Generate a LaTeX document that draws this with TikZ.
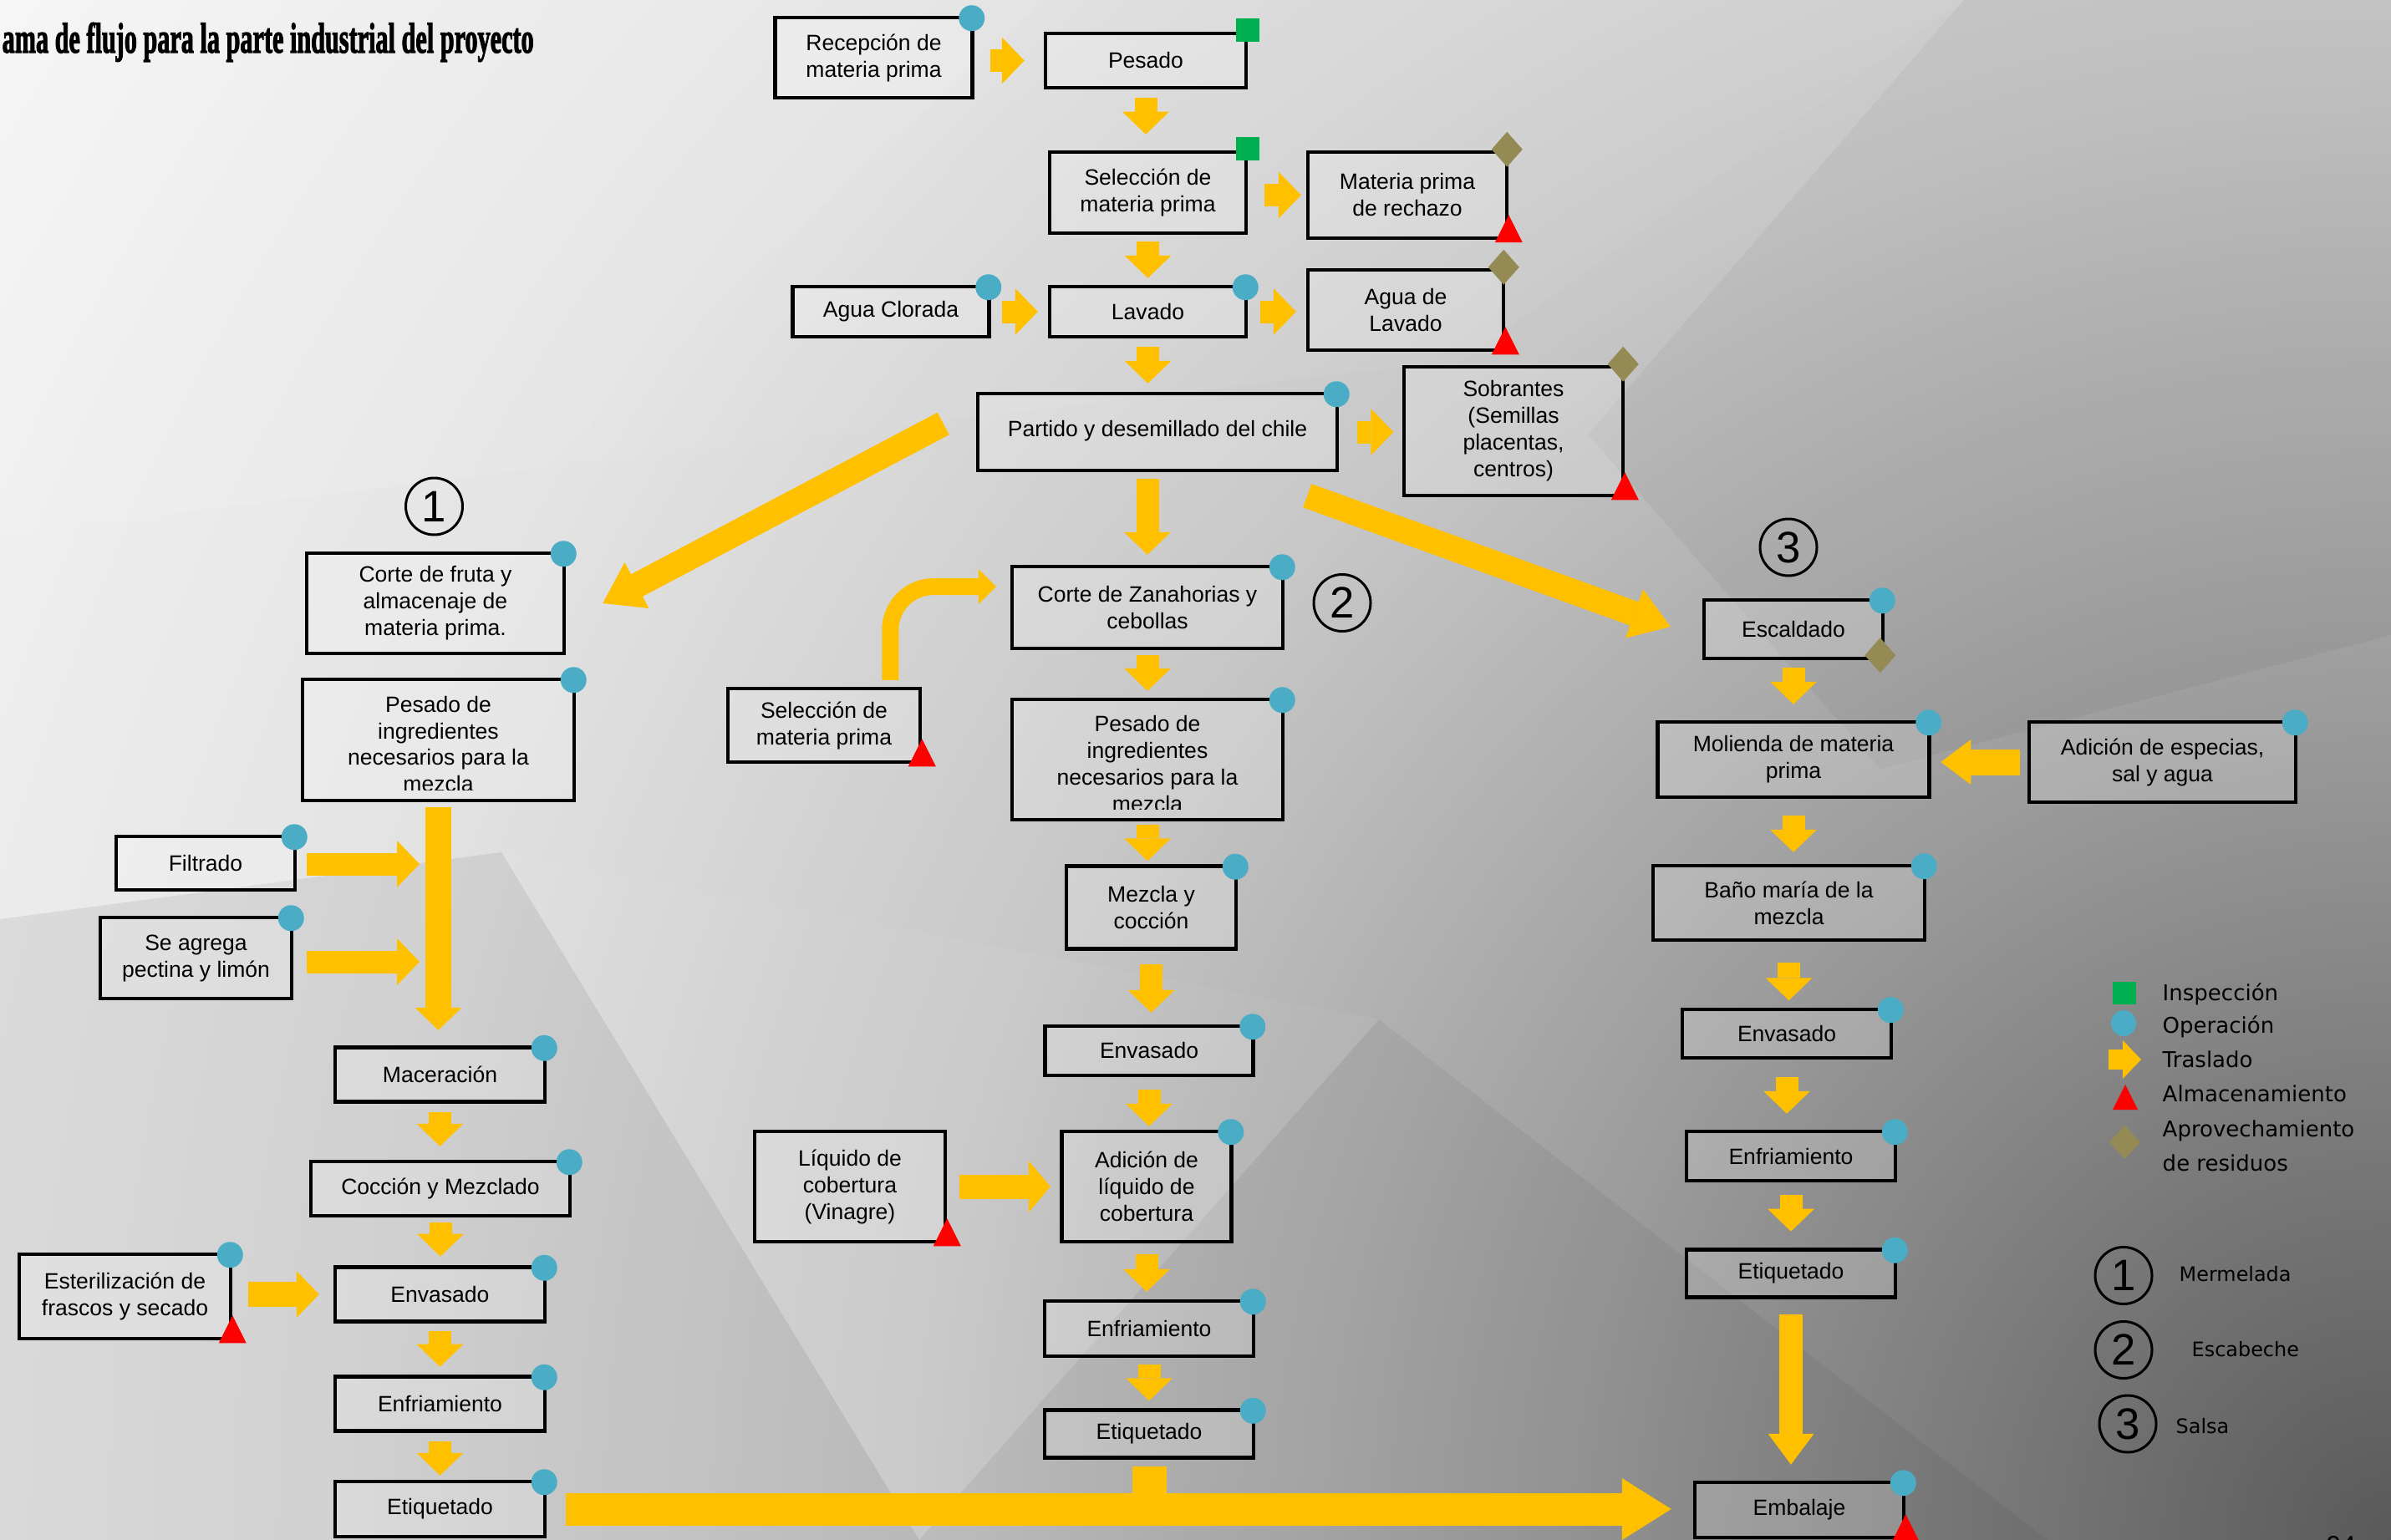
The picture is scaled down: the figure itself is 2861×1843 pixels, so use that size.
\documentclass[tikz,border=0pt]{standalone}
\usepackage{fontspec}
\usepackage{graphicx}
\setmainfont{Liberation Sans}
\newfontfamily\leyendafont{DejaVu Sans}
\newfontfamily\titulofont[FakeBold=2.5]{Liberation Serif}
\usetikzlibrary{arrows.meta}
\pgfdeclareradialshading{fondo}{\pgfpoint{0bp}{0bp}}{color(0bp)=(black!65);
    color(7.1bp)=(black!39); color(12.5bp)=(black!22); color(17.9bp)=(black!11);
    color(25bp)=(black!3); color(50bp)=(black!3)}

\begin{document}
\begin{tikzpicture}[x=0.1mm,y=-0.1mm,
    caja/.style={draw,line width=0.45mm,fill=white,fill opacity=0.2,
        text opacity=1,align=center,inner sep=0pt,
        font=\fontsize{7.55}{9.1}\selectfont},
    flecha/.style={draw=trasyellow,line width=2.7mm,
        -{Triangle[length=2.7mm,width=5.6mm,line width=0pt]}},
    flechadiag/.style={draw=trasyellow,line width=3mm,
        -{Triangle[length=4.6mm,width=6.2mm,line width=0pt]}},
    flechabase/.style={draw=trasyellow,line width=3.9mm,
        -{Triangle[length=5.9mm,width=7.4mm,line width=0pt]}},
    numero/.style={draw,circle,line width=0.3mm,minimum size=6.8mm,
        inner sep=0pt,font=\fontsize{15}{15}\selectfont},
    leyenda/.style={anchor=base west,inner sep=0pt,
        font=\leyendafont\fontsize{7.4}{11.5}\selectfont}]
    \definecolor{trasyellow}{RGB}{255,192,0}
    \definecolor{opblue}{RGB}{75,172,198}
    \definecolor{inspgreen}{RGB}{0,176,80}
    \definecolor{almred}{RGB}{255,0,0}
    \definecolor{aprolive}{RGB}{148,138,84}

    \useasboundingbox (0,0) rectangle (2861,1843);

    % background
    \begin{scope}
        \clip (0,0) rectangle (2861,1843);
        \shade[shading=fondo] (2861,1843) circle (350mm);
        \fill[white,fill opacity=0.10] (0,0) -- (1250,0) -- (650,560) -- (0,640) -- cycle;
        \fill[white,fill opacity=0.05] (1250,0) -- (2350,0) -- (1750,430) -- (650,560) -- cycle;
        \fill[black,fill opacity=0.07] (0,1100) -- (600,1020) -- (1100,1843) -- (0,1843) -- cycle;
        \fill[black,fill opacity=0.04] (2350,0) -- (2861,0) -- (2861,760) -- (2250,920) -- (1900,520) -- cycle;
        \fill[black,fill opacity=0.05] (1100,1843) -- (1650,1220) -- (2450,1843) -- cycle;
        \fill[white,fill opacity=0.04] (600,1020) -- (1650,1220) -- (1100,1843) -- cycle;
    \end{scope}

    % title
    \node[anchor=base west,inner sep=0pt] (titulo) at (2,63)
        {\resizebox{63.6mm}{3.6mm}{\titulofont\bfseries ama de flujo para la parte industrial del proyecto}};

    % common trunk
    \node[caja,minimum width=23.6mm,minimum height=9.6mm] (rec) at (1045.5,69) {Recepción de\\materia prima};
    \node[caja,minimum width=24mm,minimum height=6.5mm] (pes) at (1371,72.5) {Pesado};
    \node[caja,minimum width=23.5mm,minimum height=9.7mm] (sel) at (1373.5,230.5) {Selección de\\materia prima};
    \node[caja,minimum width=23.8mm,minimum height=10.3mm] (rech) at (1684,233.5) {Materia prima\\de rechazo};
    \node[caja,minimum width=23.5mm,minimum height=6mm] (agcl) at (1066,373) {Agua Clorada};
    \node[caja,minimum width=23.5mm,minimum height=6mm] (lav) at (1373.5,373) {Lavado};
    \node[caja,minimum width=23.4mm,minimum height=9.6mm] (aglav) at (1682,371) {Agua de\\Lavado};
    \node[caja,minimum width=43mm,minimum height=9.2mm] (part) at (1385,517)
        {\raisebox{0.9mm}{Partido y desemillado del chile}};
    \node[caja,minimum width=26.2mm,minimum height=15.4mm] (sobr) at (1811,516)
        {Sobrantes\\(Semillas\\placentas,\\centros)};

    % 1: mermelada
    \node[numero] (circ1) at (519.5,606) {1};
    \node[caja,minimum width=30.8mm,minimum height=12mm] (corte) at (521,722)
        {Corte de fruta y\\almacenaje de\\materia prima.};
    \node[caja,minimum width=32.5mm,minimum height=14.5mm,
        path picture={
            \clip (path picture bounding box.north west) rectangle
                ([shift={(0,-13)}]path picture bounding box.south east);
            \node[align=center,text opacity=1,font=\fontsize{7.55}{9.1}\selectfont]
                at ([shift={(0,5)}]path picture bounding box.center)
                {Pesado de\\ingredientes\\necesarios para la\\mezcla};}]
        (pes1) at (524.5,885.5) {};
    \node[caja,minimum width=21.4mm,minimum height=6.4mm] (filt) at (246,1033) {Filtrado};
    \node[caja,minimum width=22.9mm,minimum height=9.7mm] (pect) at (234.5,1146.5) {Se agrega\\pectina y limón};
    \node[caja,minimum width=25.1mm,minimum height=6.5mm] (mac) at (526.5,1286) {Maceración};
    \node[caja,minimum width=31mm,minimum height=6.5mm] (coc) at (527,1422.5) {Cocción y Mezclado};
    \node[caja,minimum width=25.1mm,minimum height=6.5mm] (env1) at (526.5,1549) {Envasado};
    \node[caja,minimum width=25.3mm,minimum height=10.1mm] (ester) at (149.5,1551.5)
        {Esterilización de\\frascos y secado};
    \node[caja,minimum width=25.1mm,minimum height=6.5mm] (enf1) at (526.5,1680) {Enfriamiento};
    \node[caja,minimum width=25.1mm,minimum height=6.6mm] (etq1) at (526.5,1806) {Etiquetado};
    \coordinate (filtin) at (502,1034);
    \coordinate (pectin) at (502,1151);

    % 2: escabeche
    \node[numero] (circ2) at (1606,721.5) {2};
    \node[caja,minimum width=32.4mm,minimum height=9.8mm] (cz) at (1373,727)
        {Corte de Zanahorias y\\cebollas};
    \node[caja,minimum width=23mm,minimum height=8.8mm] (selm) at (986,868)
        {Selección de\\materia prima};
    \node[caja,minimum width=32.4mm,minimum height=14.4mm,
        path picture={
            \clip (path picture bounding box.north west) rectangle
                ([shift={(0,-13)}]path picture bounding box.south east);
            \node[align=center,text opacity=1,font=\fontsize{7.55}{9.1}\selectfont]
                at ([shift={(0,5)}]path picture bounding box.center)
                {Pesado de\\ingredientes\\necesarios para la\\mezcla};}]
        (pes2) at (1373,909) {};
    \node[caja,minimum width=20.3mm,minimum height=9.9mm] (mc) at (1377.5,1086) {Mezcla y\\cocción};
    \node[caja,minimum width=24.9mm,minimum height=5.9mm] (env2) at (1375,1257.5) {Envasado};
    \node[caja,minimum width=22.8mm,minimum height=13.2mm] (liq) at (1017,1420)
        {Líquido de\\cobertura\\(Vinagre)};
    \node[caja,minimum width=20.3mm,minimum height=13.2mm] (adl) at (1372,1420)
        {Adición de\\líquido de\\cobertura};
    \node[caja,minimum width=25mm,minimum height=6.6mm] (enf2) at (1375,1590) {Enfriamiento};
    \node[caja,minimum width=25mm,minimum height=5.7mm] (etq2) at (1375,1716) {Etiquetado};

    % 3: salsa
    \node[numero] (circ3) at (2140,655) {3};
    \node[caja,minimum width=21.4mm,minimum height=7mm] (esc) at (2146,753) {Escaldado};
    \node[caja,minimum width=32.5mm,minimum height=9mm] (mol) at (2146,909)
        {Molienda de materia\\prima};
    \node[caja,minimum width=31.9mm,minimum height=9.6mm] (ade) at (2587.5,912)
        {Adición de especias,\\sal y agua};
    \node[caja,minimum width=32.5mm,minimum height=8.9mm] (bano) at (2140.5,1080.5)
        {Baño maría de la\\mezcla};
    \node[caja,minimum width=25mm,minimum height=5.8mm] (env3) at (2138,1237) {Envasado};
    \node[caja,minimum width=25mm,minimum height=5.9mm] (enf3) at (2143,1383.5) {Enfriamiento};
    \node[caja,minimum width=25mm,minimum height=5.7mm] (etq3) at (2143,1524) {Etiquetado};
    \node[caja,minimum width=25mm,minimum height=6.6mm] (emb) at (2153,1807) {Embalaje};

    % traslados: trunk
    \draw[flecha,shorten <=1.9mm,shorten >=2.3mm] (pes.west -| rec.east) -- (pes.west);
    \draw[flecha,shorten <=1mm,shorten >=1.9mm] (pes.south) -- (pes.south |- sel.north);
    \draw[flecha,shorten <=2mm,shorten >=0.6mm] (rech.west -| sel.east) -- (rech.west);
    \draw[flecha,shorten <=0.8mm,shorten >=0.8mm] (sel.south) -- (sel.south |- lav.north);
    \draw[flecha,shorten <=1.35mm,shorten >=1.2mm] (agcl.east) -- (agcl.east -| lav.west);
    \draw[flecha,shorten <=1.5mm,shorten >=1.2mm] (lav.east) -- (lav.east -| aglav.west);
    \draw[flecha,shorten <=1mm,shorten >=1mm] (lav.south) -- (lav.south |- part.north);
    \draw[flecha,shorten <=2.2mm,shorten >=1.05mm] (part.east) -- (part.east -| sobr.west);
    \draw[flecha,shorten <=0.8mm,shorten >=1.2mm] (cz.north |- part.south) -- (cz.north);
    \draw[flechadiag] ([shift={(-39,-10)}]part.west) -- ([shift={(44,0)}]corte.east);
    \draw[flechadiag] ([shift={(-38,28)}]part.south east) -- ([shift={(-38,-3)}]esc.west);

    % traslados: mermelada
    \draw[flecha,line width=3.1mm,shorten <=0.6mm,shorten >=1.85mm]
        (pes1.south) -- (pes1.south |- mac.north);
    \draw[flecha,shorten <=1.2mm] (filt.east |- filtin) -- (filtin);
    \draw[flecha,shorten <=1.6mm] (pect.east |- pectin) -- (pectin);
    \draw[flecha,shorten <=1mm,shorten >=1.6mm] (mac.south) -- (mac.south |- coc.north);
    \draw[flecha,shorten <=0.6mm,shorten >=1.06mm] (coc.south) -- (coc.south |- env1.north);
    \draw[flecha,line width=3mm,shorten <=1.9mm,shorten >=1.7mm] (env1.west -| ester.east) -- (env1.west);
    \draw[flecha,shorten <=0.9mm,shorten >=0.96mm] (env1.south) -- (env1.south |- enf1.north);
    \draw[flecha,shorten <=1mm,shorten >=0.5mm] (enf1.south) -- (enf1.south |- etq1.north);
    \draw[flechabase,shorten <=2.3mm,shorten >=2.6mm] (etq1.east) -- (etq1.east -| emb.west);

    % traslados: escabeche
    \draw[flecha,line width=2mm,-{Triangle[length=2.1mm,width=4.2mm,line width=0pt]},
        rounded corners=5.2mm]
        ([shift={(-38,-8)}]selm.north east) |- ([shift={(-17,-25)}]cz.west);
    \draw[flecha,shorten <=0.6mm,shorten >=0.8mm] (cz.south) -- (cz.south |- pes2.north);
    \draw[flecha,shorten <=0.4mm,shorten >=0.4mm] (pes2.south) -- (pes2.south |- mc.north);
    \draw[flecha,shorten <=1.65mm,shorten >=1.4mm] (mc.south) -- (mc.south |- env2.north);
    \draw[flecha,shorten <=1.5mm,shorten >=0.4mm] (env2.south) -- (env2.south |- adl.north);
    \draw[flecha,line width=2.9mm,-{Triangle[length=2.6mm,width=6.2mm,line width=0pt]},
        shorten <=1.5mm,shorten >=1.15mm] (liq.east) -- (liq.east -| adl.west);
    \draw[flecha,shorten <=1.25mm,shorten >=0.9mm] (adl.south) -- (adl.south |- enf2.north);
    \draw[flecha,shorten <=0.8mm,shorten >=0.9mm] (enf2.south) -- (enf2.south |- etq2.north);
    \draw[trasyellow,line width=4.1mm,shorten <=0.8mm] (etq2.south) -- (etq2.south |- etq1.east);

    % traslados: salsa
    \draw[flecha,shorten <=0.9mm,shorten >=1.9mm] (esc.south) -- (esc.south |- mol.north);
    \draw[flecha,line width=3.1mm,-{Triangle[length=3.6mm,width=5.4mm,line width=0pt]},
        shorten <=0.85mm,shorten >=1.15mm] (ade.west) -- (ade.west -| mol.east);
    \draw[flecha,shorten <=2mm,shorten >=1.4mm] (mol.south) -- (mol.south |- bano.north);
    \draw[flecha,shorten <=2.5mm,shorten >=0.85mm] (bano.south) -- (bano.south |- env3.north);
    \draw[flecha,shorten <=2.1mm,shorten >=1.9mm] (env3.south) -- (env3.south |- enf3.north);
    \draw[flecha,shorten <=1.5mm,shorten >=1.96mm] (enf3.south) -- (enf3.south |- etq3.north);
    \draw[flecha,line width=2.8mm,-{Triangle[length=3.7mm,width=5.5mm,line width=0pt]},
        shorten <=1.8mm,shorten >=1.9mm] (etq3.south) -- (etq3.south |- emb.north);

    % operacion
    \foreach \n in {rec,agcl,lav,part,corte,pes1,filt,pect,mac,coc,env1,ester,enf1,etq1,
            cz,pes2,mc,env2,adl,enf2,etq2,esc,mol,ade,bano,env3,enf3,etq3,emb}
        \fill[opblue] ([shift={(-3,3)}]\n.north east) circle (1.55mm);
    % inspeccion
    \foreach \n in {pes,sel}
        \fill[inspgreen] ([shift={(-14,-16)}]\n.north east) rectangle ([shift={(14,12)}]\n.north east);
    % almacenamiento
    \foreach \n in {rech,aglav,sobr,selm,liq,ester,emb}
        \fill[almred] ([shift={(-16.5,3)}]\n.south east) -- ([shift={(16.5,3)}]\n.south east)
            -- ([shift={(0,-30)}]\n.south east) -- cycle;
    % aprovechamiento
    \foreach \n in {rech,aglav,sobr}
        \fill[aprolive] ([shift={(-20.5,-1)}]\n.north east) -- ([shift={(-2,-22)}]\n.north east)
            -- ([shift={(16.5,-1)}]\n.north east) -- ([shift={(-2,20)}]\n.north east) -- cycle;
    \fill[aprolive] ([shift={(-24,-6)}]esc.south east) -- ([shift={(-5.5,-27)}]esc.south east)
        -- ([shift={(13,-6)}]esc.south east) -- ([shift={(-5.5,15)}]esc.south east) -- cycle;

    % legend
    \fill[inspgreen] (2528,1175) rectangle (2556,1202);
    \fill[opblue] (2541,1224.5) ellipse (1.5mm and 1.55mm);
    \draw[flecha,line width=2.4mm,-{Triangle[length=2.2mm,width=4.6mm,line width=0pt]}]
        (2523,1268) -- (2562,1268);
    \fill[almred] (2528,1328) -- (2558,1328) -- (2543,1298) -- cycle;
    \fill[aprolive] (2524,1367) -- (2542.5,1346.5) -- (2561,1367) -- (2542.5,1387) -- cycle;
    \node[leyenda] (linsp) at (2587,1197) {Inspección};
    \node[leyenda] (loper) at (2587,1236.5) {Operación};
    \node[leyenda] (ltras) at (2587,1277.5) {Traslado};
    \node[leyenda] (lalm) at (2587,1318) {Almacenamiento};
    \node[leyenda,align=left] (lapro) at (2587,1401) {Aprovechamiento\\de residuos};

    \node[numero] (lc1) at (2541,1526.5) {1};
    \node[numero] (lc2) at (2541,1615.5) {2};
    \node[numero] (lc3) at (2546,1704) {3};
    \node[leyenda,font=\leyendafont\fontsize{6.8}{8}\selectfont] (lmer) at (2607,1533) {Mermelada};
    \node[leyenda,font=\leyendafont\fontsize{6.8}{8}\selectfont] (lesc) at (2622,1623) {Escabeche};
    \node[leyenda,font=\leyendafont\fontsize{6.8}{8}\selectfont] (lsal) at (2603,1715) {Salsa};

    % page number
    \node[anchor=north west,inner sep=0pt,font=\fontsize{9}{9}\selectfont] (pagina) at (2783,1838) {94};
\end{tikzpicture}
\end{document}
